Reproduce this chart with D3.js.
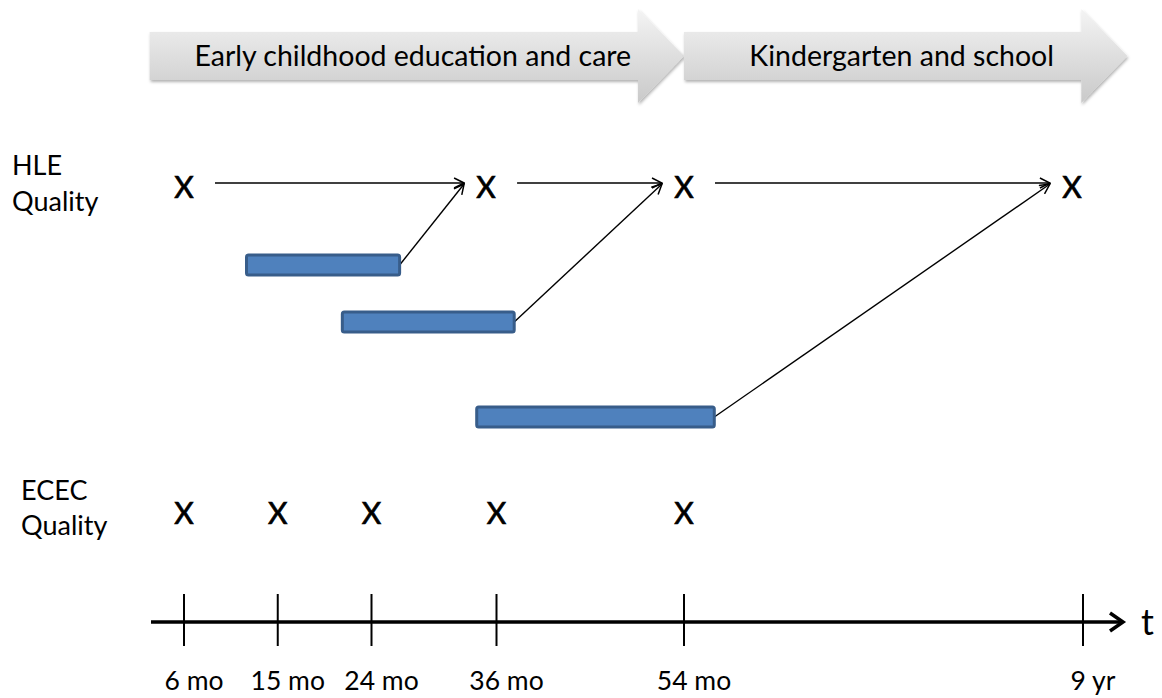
<!DOCTYPE html>
<html>
<head>
<meta charset="utf-8">
<script src="https://cdn.jsdelivr.net/npm/d3@7"></script>
<style>
  html, body { margin: 0; padding: 0; background: #fff; }
  svg { display: block; font-family: Lato, "Open Sans", sans-serif; }
</style>
</head>
<body>
<svg id="chart" width="1162" height="698"></svg>
<script>
// phases shown as gray block arrows (months)
const phaseLabels = ["Early childhood education and care", "Kindergarten and school"];
const phaseStart = [2.7, 54];
const phaseEnd = [54, 114];

// timeline ticks (months)
const tickMonths = [6, 15, 24, 36, 54, 108];
const tickLabels = ["6 mo", "15 mo", "24 mo", "36 mo", "54 mo", "9 yr"];

// measurement points
const hleMonths = [6, 35, 54, 106.5];
const ececMonths = [6, 15, 24, 36, 54];

// ECEC exposure periods (months) and which HLE point they feed
const barStart = [12, 21.2, 34.1];
const barEnd = [26.7, 37.7, 58.1];
const barTarget = [1, 2, 3];

const svg = d3.select("#chart");

const x = d3.scaleLinear().domain([6, 54, 108]).range([184, 684, 1083]);
const y = d3.scaleOrdinal()
  .domain(["phase", "hle", "bar0", "bar1", "bar2", "ecec", "axis", "ticklabel"])
  .range([56, 185, 265, 322, 417, 513, 622, 690]);

const defs = svg.append("defs");
const grad = defs.append("linearGradient").attr("id", "phaseGrad")
  .attr("x1", 0).attr("y1", 0).attr("x2", 0).attr("y2", 1);
grad.append("stop").attr("offset", "0%").attr("stop-color", "#f4f4f4");
grad.append("stop").attr("offset", "100%").attr("stop-color", "#c9c9c9");

const shadow = defs.append("filter").attr("id", "shadow")
  .attr("x", "-5%").attr("y", "-10%").attr("width", "115%").attr("height", "130%");
shadow.append("feDropShadow").attr("dx", 1).attr("dy", 2).attr("stdDeviation", 1.5)
  .attr("flood-color", "#000").attr("flood-opacity", 0.3);

defs.append("marker").attr("id", "head")
  .attr("viewBox", "0 0 12 12").attr("refX", 11).attr("refY", 6)
  .attr("markerWidth", 12).attr("markerHeight", 12)
  .attr("markerUnits", "userSpaceOnUse").attr("orient", "auto")
  .append("path").attr("d", "M1,1 L11,6 L1,11")
  .attr("fill", "none").attr("stroke", "#000").attr("stroke-width", 1.5);

// phase block arrows
const headLen = 46, bodyHalf = 24, headHalf = 47;
const phases = phaseLabels.map((label, i) => ({ label, s: phaseStart[i], e: phaseEnd[i] }));
const pg = svg.append("g").selectAll("g").data(phases).enter().append("g");
pg.append("path")
  .attr("d", d => {
    const x0 = x(d.s), x1 = x(d.e), xb = x1 - headLen, cy = y("phase");
    return `M${x0},${cy - bodyHalf} L${xb},${cy - bodyHalf} L${xb},${cy - headHalf} L${x1},${cy}
            L${xb},${cy + headHalf} L${xb},${cy + bodyHalf} L${x0},${cy + bodyHalf} Z`;
  })
  .attr("fill", "url(#phaseGrad)")
  .attr("filter", "url(#shadow)");
pg.append("text")
  .attr("x", d => (x(d.s) + x(d.e)) / 2 - 4)
  .attr("y", y("phase"))
  .attr("dy", "0.35em")
  .attr("text-anchor", "middle")
  .style("font-size", "28.5px")
  .style("fill", "#000")
  .text(d => d.label);

// row labels
const rowLabels = svg.append("g").style("font-size", "27px").style("fill", "#000");
rowLabels.append("text").attr("x", 12).attr("y", y("hle") - 19).attr("dy", "0.35em").text("HLE");
rowLabels.append("text").attr("x", 12).attr("y", y("hle") + 17).attr("dy", "0.35em").text("Quality");
rowLabels.append("text").attr("x", 21).attr("y", y("ecec") - 22).attr("dy", "0.35em").text("ECEC");
rowLabels.append("text").attr("x", 21).attr("y", y("ecec") + 13).attr("dy", "0.35em").text("Quality");

// X marks
const marks = svg.append("g").style("font-size", "30px").style("fill", "#000")
  .style("stroke", "#000").style("stroke-width", 0.7).attr("text-anchor", "middle");
marks.selectAll(".hle").data(hleMonths).enter().append("text")
  .attr("x", d => x(d)).attr("y", y("hle") + 2).attr("dy", "0.35em").text("X");
marks.selectAll(".ecec").data(ececMonths).enter().append("text")
  .attr("x", d => x(d)).attr("y", y("ecec")).attr("dy", "0.35em").text("X");

// HLE to HLE arrows
const arrowY = y("hle") - 2;
svg.append("g").selectAll("line").data(d3.pairs(hleMonths)).enter().append("line")
  .attr("x1", d => x(d[0]) + 31).attr("y1", arrowY)
  .attr("x2", d => x(d[1]) - 22).attr("y2", arrowY)
  .attr("stroke", "#000").attr("stroke-width", 1.5)
  .attr("marker-end", "url(#head)");

// ECEC bars
const bars = barStart.map((s, i) => ({ s, e: barEnd[i], row: "bar" + i, t: hleMonths[barTarget[i]] }));
svg.append("g").selectAll("line").data(bars).enter().append("line")
  .attr("x1", d => x(d.e)).attr("y1", d => y(d.row))
  .attr("x2", d => x(d.t) - 22).attr("y2", arrowY + 1)
  .attr("stroke", "#000").attr("stroke-width", 1.4)
  .attr("marker-end", "url(#head)");
svg.append("g").selectAll("rect").data(bars).enter().append("rect")
  .attr("x", d => x(d.s)).attr("y", d => y(d.row) - 10)
  .attr("width", d => x(d.e) - x(d.s)).attr("height", 20)
  .attr("rx", 2)
  .attr("fill", "#4f81bd").attr("stroke", "#385d8a").attr("stroke-width", 3);

// time axis
const ay = y("axis");
const axisG = svg.append("g");
axisG.append("line").attr("x1", 151).attr("x2", 1122).attr("y1", ay).attr("y2", ay)
  .attr("stroke", "#000").attr("stroke-width", 3.5);
axisG.append("path").attr("d", `M1110,${ay - 9} L1123,${ay} L1110,${ay + 9}`)
  .attr("fill", "none").attr("stroke", "#000").attr("stroke-width", 3.5);
axisG.append("text").attr("x", 1141).attr("y", ay).attr("dy", "0.35em")
  .style("font-size", "36px").text("t");
axisG.selectAll(".tick").data(tickMonths).enter().append("line")
  .attr("x1", d => x(d)).attr("x2", d => x(d))
  .attr("y1", ay - 28).attr("y2", ay + 24)
  .attr("stroke", "#000").attr("stroke-width", 2);
axisG.selectAll(".lbl").data(tickMonths).enter().append("text")
  .attr("x", d => x(d) + 10).attr("y", y("ticklabel"))
  .attr("text-anchor", "middle").style("font-size", "26.5px").style("fill", "#000")
  .text((d, i) => tickLabels[i]);
</script>
</body>
</html>
